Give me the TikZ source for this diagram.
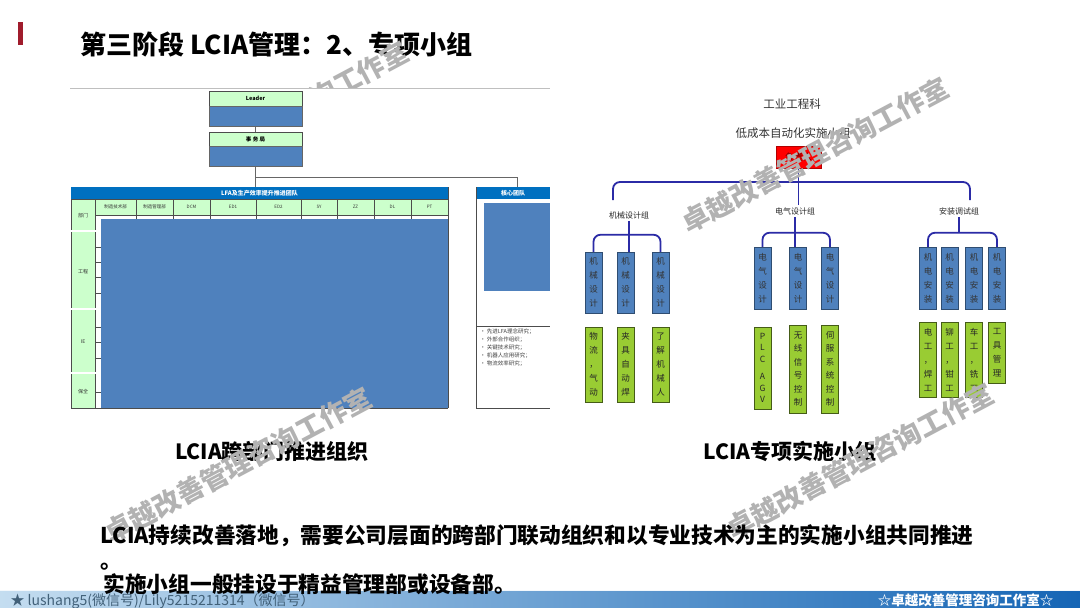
\documentclass[tikz,border=0pt]{standalone}
\usepackage{fontspec}
\setmainfont{Noto Sans CJK SC}
\definecolor{hdrblue}{HTML}{0070C0}
\definecolor{blk}{HTML}{4F81BD}
\definecolor{mint}{HTML}{CCFFCC}
\definecolor{navy}{HTML}{2B2BA6}
\definecolor{lime}{HTML}{99CC33}
\definecolor{dred}{HTML}{A01C2C}
\definecolor{fL}{HTML}{C4DDF0}
\definecolor{fM}{HTML}{78B0DC}
\definecolor{fR}{HTML}{1565B5}
\begin{document}
\begin{tikzpicture}[x=1pt,y=-1pt,
  wm/.style={text=black!30, font=\bfseries\fontsize{27}{30}\selectfont, rotate=28},
  lbox/.style={draw=black!70, line width=0.5pt, fill=mint, inner sep=0pt, font=\bfseries\fontsize{5.5}{6}\selectfont},
  bbox/.style={draw=black!60, line width=0.5pt, fill=blk, inner sep=0pt},
  tline/.style={draw=black!70, line width=0.6pt},
  conn/.style={draw=black!60, line width=0.6pt},
  brk/.style={draw=navy, line width=1.8pt, rounded corners=7pt},
  vb/.style={draw=blk!60!black, line width=0.5pt, fill=blk, minimum width=17pt, inner sep=0pt, align=center, text=black!80, font=\fontsize{8.5}{14}\selectfont},
  vg/.style={draw=lime!45!black, line width=0.6pt, fill=lime, minimum width=17pt, inner sep=0pt, align=center, text=black!85, font=\fontsize{8.5}{14}\selectfont},
  glabel/.style={font=\fontsize{8}{9}\selectfont, text=black!85, fill=white, inner sep=2pt},
  captxt/.style={font=\bfseries\fontsize{21}{24}\selectfont},
  bodytxt/.style={anchor=west, font=\bfseries\fontsize{21.7}{25}\selectfont},
  tinytxt/.style={font=\fontsize{4.5}{5}\selectfont, text=black!80},
]
\useasboundingbox (0,0) rectangle (1080,608);
\fill[white] (0,0) rectangle (1080,608);

% title
\fill[dred] (18,22) rectangle (23,45);
\node[anchor=west, font=\bfseries\fontsize{26}{29}\selectfont] (title) at (77,45) {第三阶段 LCIA管理：2、专项小组};

% visible tail of a watermark above the left image
\begin{scope}
\clip (0,0) rectangle (1080,88);
\node[wm] (w4) at (359,75) {询工作室};
\end{scope}

% ---------- left diagram ----------
\draw[black!25, line width=0.6pt] (70,88) -- (550,88);

\node[lbox, minimum width=93pt, minimum height=15pt] (leadH) at (255.5,98.5) {Leader};
\node[bbox, minimum width=93pt, minimum height=20pt] (leadB) at (255.5,116) {};
\node[lbox, minimum width=93pt, minimum height=14pt] (affH) at (255.5,139) {事 务 局};
\node[bbox, minimum width=93pt, minimum height=20pt] (affB) at (255.5,156) {};

\node[fill=hdrblue, minimum width=377pt, minimum height=12pt, inner sep=0pt, text=white, font=\bfseries\fontsize{6}{7}\selectfont] (tblH) at (259.5,193) {LFA及生产效率提升推进团队};
\node[fill=hdrblue, minimum width=74pt, minimum height=12pt, inner sep=0pt, text=white, font=\bfseries\fontsize{6}{7}\selectfont] (coreH) at (513,193) {核心团队};

\draw[conn] (leadB.south) -- (affH.north);
\draw[conn] (affB.south) -- (affB.south |- tblH.north);
\coordinate (jn) at (255.5,177);
\draw[conn] (jn) -| ([xshift=4pt]coreH.north);

% table body
\fill[mint] (95,199) rectangle (448,215);
\fill[mint] (71,199) rectangle (95,408);
\fill[blk] (101,219) rectangle (448,408);
\foreach \xx in {95,136,173,210,256,301,337,374,411}
  \draw[tline] (\xx,199) -- (\xx,219);
\draw[tline] (95,215) -- (448,215);
\draw[tline] (71,199) -- (448,199);
\draw[tline] (71,199) -- (71,408);
\draw[tline] (448,187) -- (448,408);
\draw[tline] (95,219) -- (95,408);
\draw[tline] (71,408) -- (448,408);
\foreach \yy in {231,309,373}
  \draw[black!55, double=white, double distance=1.2pt, line width=0.8pt] (71,\yy) -- (101,\yy);
\foreach \yy in {247,262,277,293,327,342,358,392}
  \draw[tline] (95,\yy) -- (101,\yy);

\node[tinytxt] (c1) at (115.5,207) {制造技术部};
\node[tinytxt] (c2) at (154.5,207) {制造管理部};
\node[tinytxt] (c3) at (191.5,207) {DCM};
\node[tinytxt] (c4) at (233,207) {ED1};
\node[tinytxt] (c5) at (278.5,207) {ED2};
\node[tinytxt] (c6) at (319,207) {SY};
\node[tinytxt] (c7) at (355.5,207) {ZZ};
\node[tinytxt] (c8) at (392.5,207) {DL};
\node[tinytxt] (c9) at (429.5,207) {PT};
\node[tinytxt, font=\fontsize{5}{6}\selectfont] (r1) at (83,216) {部门};
\node[tinytxt, font=\fontsize{5}{6}\selectfont] (r2) at (83,272) {工程};
\node[tinytxt, font=\fontsize{5}{6}\selectfont] (r3) at (83,342) {IE};
\node[tinytxt, font=\fontsize{5}{6}\selectfont] (r4) at (83,392) {保全};

% core team
\draw[tline] (476,187) -- (476,408);
\fill[blk] (484,203) rectangle (550,291);
\draw[tline] (476,326) -- (550,326);
\draw[tline] (476,408) -- (550,408);
\node[anchor=north west, align=left, inner sep=0pt, font=\fontsize{5.5}{8}\selectfont, text=black!75] (bul) at (480,329)
 {• 先进LFA理念研究；\\• 外部合作组织；\\• 关键技术研究；\\• 机器人应用研究；\\• 物流效率研究；};

% ---------- right diagram ----------
\node[font=\fontsize{11.5}{12}\selectfont, text=black!80] (dept) at (792,104) {工业工程科};
\node[font=\fontsize{11.5}{12}\selectfont, text=black!80] (team) at (793,133) {低成本自动化实施小组};
\node[fill=red, draw=red!70!black, minimum width=45pt, minimum height=22pt, inner sep=0pt, font=\fontsize{9}{10}\selectfont, text=black!60!red] (lead) at (798.5,157) {负责人};

\node[glabel] (g1) at (629,215) {机械设计组};
\node[glabel] (g2) at (795,211) {电气设计组};
\node[glabel] (g3) at (959,211) {安装调试组};

\coordinate (bl) at (613,200);
\coordinate (br) at (970,200);
\draw[brk] (bl) -- (613,182) -- (970,182) -- (br);
\draw[brk] (lead.south) -- (lead.south |- g2.north);

% mechanical
\node[vb, minimum height=61pt] (m1) at (593.5,282.5) {机\\械\\设\\计};
\node[vb, minimum height=61pt] (m2) at (625.5,282.5) {机\\械\\设\\计};
\node[vb, minimum height=61pt] (m3) at (660.5,282.5) {机\\械\\设\\计};
\node[vg, minimum height=75pt] (n1) at (593.5,364.5) {物\\流\\，\\气\\动};
\node[vg, minimum height=75pt] (n2) at (625.5,364.5) {夹\\具\\自\\动\\焊};
\node[vg, minimum height=75pt] (n3) at (660.5,364.5) {了\\解\\机\\械\\人};
\draw[brk] (m1.north) -- ++(0,-17) -| (m3.north);
\draw[brk] (g1.south) -- (g1.south |- m2.north);

% electrical
\node[vb, minimum height=62pt] (e1) at (762.5,278) {电\\气\\设\\计};
\node[vb, minimum height=62pt] (e2) at (798,278) {电\\气\\设\\计};
\node[vb, minimum height=62pt] (e3) at (830,278) {电\\气\\设\\计};
\node[vg, minimum height=82pt, font=\fontsize{8.5}{11.5}\selectfont] (f1) at (762.5,368) {P\\L\\C\\[6pt]A\\G\\V};
\node[vg, minimum height=88pt, font=\fontsize{8.5}{13.5}\selectfont] (f2) at (798,369) {无\\线\\信\\号\\控\\制};
\node[vg, minimum height=88pt, font=\fontsize{8.5}{13.5}\selectfont] (f3) at (830,369) {伺\\服\\系\\统\\控\\制};
\draw[brk] (e1.north) -- ++(0,-14) -| (e3.north);
\draw[brk] (g2.south) -- (g2.south |- e2.north);

% installation
\node[vb, minimum height=62pt] (i1) at (928,278) {机\\电\\安\\装};
\node[vb, minimum height=62pt] (i2) at (949.5,278) {机\\电\\安\\装};
\node[vb, minimum height=62pt] (i3) at (974,278) {机\\电\\安\\装};
\node[vb, minimum height=62pt] (i4) at (997,278) {机\\电\\安\\装};
\node[vg, minimum height=75pt] (k1) at (928,359.5) {电\\工\\，\\焊\\工};
\node[vg, minimum height=75pt] (k2) at (949.5,359.5) {铆\\工\\，\\钳\\工};
\node[vg, minimum height=75pt] (k3) at (974,359.5) {车\\工\\，\\铣\\工};
\node[vg, minimum height=61pt] (k4) at (997,352.5) {工\\具\\管\\理};
\draw[brk] (i1.north) -- ++(0,-14) -| (i4.north);
\draw[brk] (g3.south) -- ++(0,16);

% captions
\node[captxt] (capL) at (272,451) {LCIA跨部门推进组织};
\node[captxt] (capR) at (790,451) {LCIA专项实施小组};

% watermarks
\node[wm] (w1) at (815,155) {卓越改善管理咨询工作室};
\node[wm] (w2) at (238,465) {卓越改善管理咨询工作室};
\node[wm] (w3) at (860,461) {卓越改善管理咨询工作室};

% footer band (under the last text line)
\shade[left color=fL, middle color=fM, right color=fR] (0,590) rectangle (1080,608);
\draw[white!80!fL, line width=0.8pt] (0,590) -- (1080,590);
\node[anchor=west, font=\fontsize{14}{15}\selectfont, text=black!45!fM] (fl) at (7,601) {★ lushang5(微信号)/Lily5215211314（微信号）};
\node[anchor=east, font=\bfseries\fontsize{13.5}{14}\selectfont, text=white] (fr) at (1057,600.5) {☆卓越改善管理咨询工作室☆};

% body text
\node[bodytxt] (p1) at (97,536) {LCIA持续改善落地，需要公司层面的跨部门联动组织和以专业技术为主的实施小组共同推进};
\node[bodytxt] (p2) at (97,567) {。};
\node[bodytxt] (p3) at (100,584) {实施小组一般挂设于精益管理部或设备部。};
\end{tikzpicture}
\end{document}
